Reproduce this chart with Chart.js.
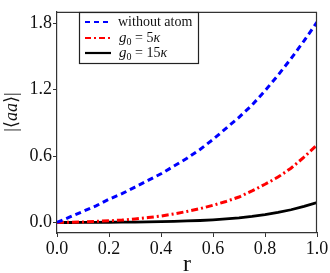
<!DOCTYPE html>
<html>
<head>
<meta charset="utf-8">
<script src="https://cdn.jsdelivr.net/npm/chart.js@4/dist/chart.umd.min.js"></script>
<style>
html,body{margin:0;padding:0;background:#fff;}
#wrap{width:330px;height:273px;position:relative;}
</style>
</head>
<body>
<div id="wrap"><canvas id="c" width="330" height="273"></canvas></div>
<script>
const rValues = [0,0.05,0.1,0.15,0.2,0.25,0.3,0.35,0.4,0.45,0.5,0.55,0.6,0.65,0.7,0.75,0.8,0.85,0.9,0.95,1.0];
const withoutAtom = [0,0.05,0.10,0.15,0.21,0.26,0.32,0.38,0.44,0.51,0.58,0.66,0.75,0.85,0.95,1.06,1.19,1.33,1.48,1.64,1.81];
const g5 = [0,0.002,0.005,0.01,0.015,0.022,0.032,0.044,0.058,0.077,0.10,0.125,0.155,0.19,0.23,0.285,0.345,0.41,0.49,0.59,0.70];
const g15 = [0,0,0.001,0.001,0.002,0.003,0.004,0.005,0.007,0.01,0.014,0.018,0.024,0.032,0.042,0.055,0.072,0.092,0.115,0.145,0.18];
const yTicks = [0.0,0.6,1.2,1.8];
const xTicks = [0.0,0.2,0.4,0.6,0.8,1.0];
const seriesNames = ['without atom','g0 = 5κ','g0 = 15κ'];
const xTitle = 'r';

const serif = "'Liberation Serif','DejaVu Serif',serif";

const toPts = arr => arr.map((v,i)=>({x:rValues[i], y:v}));

const framePlugin = {
  id:'frame',
  beforeDraw(chart){
    const ctx=chart.ctx; ctx.save(); ctx.fillStyle='#fff'; ctx.fillRect(0,0,chart.width,chart.height); ctx.restore();
  },
  afterDraw(chart){
    const ctx=chart.ctx, a=chart.chartArea;
    ctx.save();
    ctx.strokeStyle='#333'; ctx.lineWidth=1.2;
    ctx.beginPath();
    ctx.moveTo(a.left,a.top+0.5); ctx.lineTo(a.right,a.top+0.5);
    ctx.moveTo(a.right-0.5,a.top); ctx.lineTo(a.right-0.5,a.bottom);
    ctx.stroke();
    // legend
    const lx=79, ly=12, lw=119, lh=51;
    ctx.fillStyle='#fff'; ctx.fillRect(lx,ly,lw,lh);
    ctx.strokeStyle='#222'; ctx.lineWidth=1.2; ctx.strokeRect(lx+0.5,ly+0.5,lw,lh);
    const rows=[22,38,53];
    const styles=[{c:'#0000ff',d:[5,4]},{c:'#ff0000',d:[6,3,2,3]},{c:'#000',d:[]}];
    chart.data.datasets.forEach((ds,i)=>{
      ctx.strokeStyle=styles[i].c; ctx.lineWidth=2.2; ctx.setLineDash(styles[i].d);
      ctx.beginPath(); ctx.moveTo(85,rows[i]); ctx.lineTo(111,rows[i]); ctx.stroke();
    });
    ctx.setLineDash([]);
    ctx.fillStyle='#111'; ctx.textBaseline='middle';
    ctx.font='14px '+serif;
    ctx.fillText(seriesNames[0],118,rows[0]);
    // g0 = 5κ, g0 = 15κ with italic g and subscript
    [[seriesNames[1],rows[1]],[seriesNames[2],rows[2]]].forEach(([t,y])=>{
      const rest=t.slice(2); // " = 5κ"
      let x=119;
      ctx.font='italic 15px '+serif; ctx.fillText('g',x,y); x+=ctx.measureText('g').width;
      ctx.font='10px '+serif; ctx.fillText('0',x,y+4); x+=ctx.measureText('0').width;
      ctx.font='14px '+serif; ctx.fillText(' = '+rest.replace(' = ','').replace('κ',''),x,y);
      x+=ctx.measureText(' = '+rest.replace(' = ','').replace('κ','')).width;
      ctx.font='italic 14px '+serif; ctx.fillText('κ',x,y);
    });
    // y title |<aa>|
    ctx.save();
    ctx.translate(12,112); ctx.rotate(-Math.PI/2);
    const parts=[['|⟨','18px '],['aa','italic 18px '],['⟩|','18px ']];
    let tw=0; parts.forEach(p=>{ctx.font=p[1]+serif; tw+=ctx.measureText(p[0]).width;});
    let x=-tw/2; ctx.textBaseline='middle';
    parts.forEach(p=>{ctx.font=p[1]+serif; ctx.fillText(p[0],x,0); x+=ctx.measureText(p[0]).width;});
    ctx.restore();
    // x title
    ctx.font='24px '+serif; ctx.textAlign='center'; ctx.textBaseline='alphabetic';
    ctx.fillText(xTitle,(a.left+a.right)/2,271);
    ctx.restore();
  }
};

new Chart(document.getElementById('c'),{
  type:'line',
  data:{datasets:[
    {label:seriesNames[0],data:toPts(withoutAtom),borderColor:'#0000ff',borderWidth:3,borderDash:[6,4],pointRadius:0,fill:false},
    {label:seriesNames[1],data:toPts(g5),borderColor:'#ff0000',borderWidth:3,borderDash:[7,3,2,3],pointRadius:0,fill:false},
    {label:seriesNames[2],data:toPts(g15),borderColor:'#000000',borderWidth:2.8,pointRadius:0,fill:false}
  ]},
  options:{
    responsive:false,animation:false,
    layout:{padding:{top:1,right:13,left:0,bottom:0}},
    plugins:{legend:{display:false},tooltip:{enabled:false}},
    scales:{
      x:{type:'linear',min:0,max:1,
        afterBuildTicks:s=>{s.ticks=xTicks.map(v=>({value:v}));},
        afterFit:s=>{s.height=40;},
        grid:{drawOnChartArea:false,tickLength:4,color:'#333',tickWidth:1},
        border:{color:'#333',width:1.2},
        ticks:{padding:1,color:'#111',font:{family:serif,size:18},callback:v=>v.toFixed(1),maxRotation:0}
      },
      y:{type:'linear',min:-0.095,max:1.903,
        afterBuildTicks:s=>{s.ticks=yTicks.map(v=>({value:v}));},
        afterFit:s=>{s.width=57;},
        grid:{drawOnChartArea:false,tickLength:4,color:'#333',tickWidth:1},
        border:{color:'#333',width:1.2},
        ticks:{padding:1,color:'#111',font:{family:serif,size:18},callback:v=>v.toFixed(1)}
      }
    }
  },
  plugins:[framePlugin]
});
</script>
</body>
</html>
